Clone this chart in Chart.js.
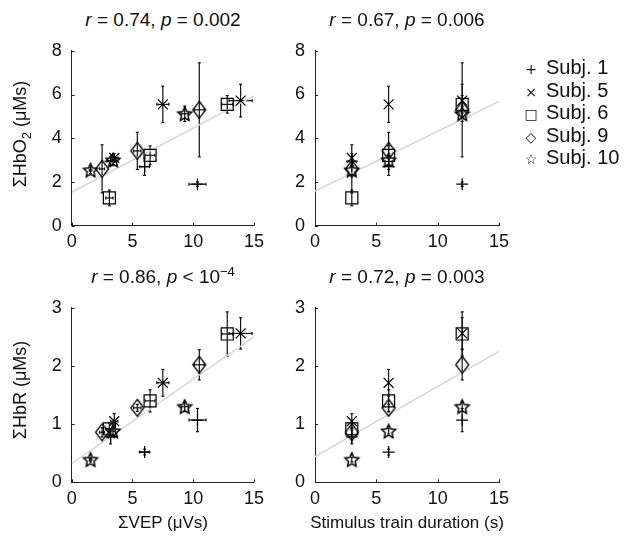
<!DOCTYPE html>
<html>
<head>
<meta charset="utf-8">
<script src="https://cdn.jsdelivr.net/npm/chart.js@4.4.1/dist/chart.umd.min.js"></script>
<style>
  body { margin: 0; background: #fff; width: 626px; height: 541px; position: relative; overflow: hidden;
         font-family: 'Liberation Sans', Arial, sans-serif; color: #111; }
  canvas { position: absolute; }
  .txt { position: absolute; white-space: nowrap; font-size: 18px; line-height: 20px; }
  .ttl { width: 260px; text-align: center; font-size: 19px; }
  .ylab { transform: translate(-50%, -50%) rotate(-90deg); }
  .xlab { transform: translateX(-50%); font-size: 17px; }
  .leg { position: absolute; left: 520px; font-size: 20px; line-height: 20px; white-space: nowrap; }
  .leg span.sym { display: inline-block; width: 22px; text-align: center; font-family: 'DejaVu Sans'; font-size: 14px; margin-right: 4px; }
  sub, sup { font-size: 13px; line-height: 0; }
</style>
</head>
<body>
<canvas id="c1" width="270" height="240" style="left:0;top:30px"></canvas>
<canvas id="c2" width="260" height="240" style="left:260px;top:30px"></canvas>
<canvas id="c3" width="270" height="240" style="left:0;top:287px"></canvas>
<canvas id="c4" width="260" height="240" style="left:260px;top:287px"></canvas>

<div class="txt ttl" style="left:33px;top:10px"><i>r</i> = 0.74, <i>p</i> = 0.002</div>
<div class="txt ttl" style="left:277px;top:10px"><i>r</i> = 0.67, <i>p</i> = 0.006</div>
<div class="txt ttl" style="left:33px;top:267px"><i>r</i> = 0.86, <i>p</i> &lt; 10<sup>−4</sup></div>
<div class="txt ttl" style="left:277px;top:267px"><i>r</i> = 0.72, <i>p</i> = 0.003</div>

<div class="txt ylab" style="left:20px;top:134px">ΣHbO<sub>2</sub> (μMs)</div>
<div class="txt ylab" style="left:20px;top:390px">ΣHbR (μMs)</div>
<div class="txt xlab" style="left:163px;top:513px">ΣVEP (μVs)</div>
<div class="txt xlab" style="left:407px;top:513px">Stimulus train duration (s)</div>

<div id="legend"></div>

<script>
// subjects and stimulus train durations
const subjects = ['Subj. 1', 'Subj. 5', 'Subj. 6', 'Subj. 9', 'Subj. 10'];
const legendSymbols = ['+', '×', '□', '◇', '☆'];
const durations = [3, 6, 12];

// ΣVEP (μVs) per subject, for 3/6/12 s trains
const vep    = [[3.2, 6.0, 10.35], [3.5, 7.5, 13.9], [3.1, 6.45, 12.8], [2.5, 5.4, 10.5], [1.55, 3.4, 9.3]];
const vepErr = [[0.3, 0.4, 0.7],   [0.3, 0.5, 0.95], [0.3, 0.4, 0.45], [0.2, 0.3, 0.4],  [0.1, 0.2, 0.3]];

// ΣHbO2 (μMs)
const hbo    = [[2.95, 2.7, 1.9], [3.1, 5.55, 5.72], [1.27, 3.22, 5.55], [2.6, 3.42, 5.3], [2.54, 3.0, 5.12]];
const hboErr = [[0.2, 0.4, 0.1],  [0.2, 0.83, 0.75], [0.36, 0.43, 0.4],  [1.1, 0.85, 2.15], [0.15, 0.25, 0.35]];

// ΣHbR (μMs)
const hbr    = [[0.78, 0.52, 1.07], [1.05, 1.71, 2.56], [0.92, 1.4, 2.55], [0.86, 1.28, 2.02], [0.39, 0.88, 1.3]];
const hbrErr = [[0.12, 0.05, 0.2],  [0.13, 0.23, 0.27], [0.1, 0.19, 0.38], [0.08, 0.06, 0.26], [0.04, 0.05, 0.08]];

// regression lines: y at x = 0 and x = 15
const fitX = [0, 15];
const fitHboVep = [1.53, 5.94];
const fitHboDur = [1.58, 5.69];
const fitHbrVep = [0.32, 2.5];
const fitHbrDur = [0.44, 2.25];

Chart.defaults.font.family = "'Liberation Sans', Arial, sans-serif";
Chart.defaults.font.size = 18;
Chart.defaults.color = '#111';

// custom marker images (tall diamond, pentagram)
function makeDiamond() {
  const c = document.createElement('canvas');
  c.width = 16; c.height = 20;
  const g = c.getContext('2d');
  g.strokeStyle = '#000'; g.lineWidth = 1.3;
  g.beginPath();
  g.moveTo(8, 1.5); g.lineTo(14.5, 10); g.lineTo(8, 18.5); g.lineTo(1.5, 10); g.closePath();
  g.stroke();
  return c;
}
function makeStar() {
  const c = document.createElement('canvas');
  c.width = 18; c.height = 18;
  const g = c.getContext('2d');
  g.strokeStyle = '#000'; g.lineWidth = 1.5;
  g.lineJoin = 'miter';
  g.beginPath();
  for (let k = 0; k < 10; k++) {
    const r = k % 2 === 0 ? 7.3 : 3.5;
    const a = -Math.PI / 2 + k * Math.PI / 5;
    const px = 9 + r * Math.cos(a), py = 9.6 + r * Math.sin(a);
    if (k === 0) g.moveTo(px, py); else g.lineTo(px, py);
  }
  g.closePath();
  g.stroke();
  return c;
}
const pointStyles = ['cross', 'crossRot', 'rect', makeDiamond(), makeStar()];
const pointRadii = [6, 7, 8.5, 8, 8];

// legend
const legend = document.getElementById('legend');
subjects.forEach((s, i) => {
  const d = document.createElement('div');
  d.className = 'leg';
  d.style.top = (57 + i * 22.5) + 'px';
  d.innerHTML = '<span class="sym">' + legendSymbols[i] + '</span>' + s;
  legend.appendChild(d);
});

// error bars drawn through the scales
const errorBars = {
  id: 'errorBars',
  beforeDatasetsDraw(chart) {
    const { ctx, scales: { x, y } } = chart;
    ctx.save();
    ctx.strokeStyle = '#111';
    ctx.lineWidth = 1.2;
    const seg = (x1, y1, x2, y2) => { ctx.beginPath(); ctx.moveTo(x1, y1); ctx.lineTo(x2, y2); ctx.stroke(); };
    chart.data.datasets.forEach(ds => {
      if (!ds.yErr) return;
      ds.data.forEach((p, i) => {
        const px = x.getPixelForValue(p.x), py = y.getPixelForValue(p.y);
        const ey = ds.yErr[i];
        if (ey) {
          const y1 = y.getPixelForValue(p.y - ey), y2 = y.getPixelForValue(p.y + ey);
          seg(px, y1, px, y2);
          seg(px - 1.5, y1, px + 1.5, y1);
          seg(px - 1.5, y2, px + 1.5, y2);
        }
        const ex = ds.xErr ? ds.xErr[i] : 0;
        if (ex) {
          const x1 = x.getPixelForValue(p.x - ex), x2 = x.getPixelForValue(p.x + ex);
          seg(x1, py, x2, py);
          seg(x1, py - 1.5, x1, py + 1.5);
          seg(x2, py - 1.5, x2, py + 1.5);
        }
      });
    });
    ctx.restore();
  }
};

// small inward tick marks
const inwardTicks = {
  id: 'inwardTicks',
  afterDraw(chart) {
    const { ctx, chartArea: a, scales: { x, y } } = chart;
    ctx.save();
    ctx.strokeStyle = '#222';
    ctx.lineWidth = 1;
    x.ticks.forEach(t => {
      const px = Math.round(x.getPixelForValue(t.value)) + 0.5;
      ctx.beginPath(); ctx.moveTo(px, a.bottom); ctx.lineTo(px, a.bottom - 3); ctx.stroke();
    });
    y.ticks.forEach(t => {
      const py = Math.round(y.getPixelForValue(t.value)) + 0.5;
      ctx.beginPath(); ctx.moveTo(a.left, py); ctx.lineTo(a.left + 3, py); ctx.stroke();
    });
    ctx.restore();
  }
};

function makePanel(id, left, top, w, h, area, xVals, xErrs, yVals, yErrs, fit, yMax, yStep) {
  const datasets = [{
    type: 'line',
    data: fitX.map((v, i) => ({ x: v, y: fit[i] })),
    borderColor: '#d6d6d6',
    borderWidth: 1.5,
    pointRadius: 0,
    order: 10
  }];
  subjects.forEach((s, i) => {
    datasets.push({
      label: s,
      data: durations.map((d, j) => ({ x: xVals[i][j], y: yVals[i][j] })),
      yErr: yErrs[i],
      xErr: xErrs ? xErrs[i] : null,
      pointStyle: pointStyles[i],
      pointRadius: pointRadii[i],
      borderColor: '#000',
      backgroundColor: 'rgba(0,0,0,0)',
      pointBorderWidth: 1.2,
      clip: false,
      order: 1
    });
  });
  new Chart(document.getElementById(id), {
    type: 'scatter',
    data: { datasets },
    options: {
      responsive: false,
      animation: false,
      devicePixelRatio: 1,
      layout: { padding: { left: 0, top: area.t - top, right: left + w - area.r, bottom: 0 } },
      plugins: { legend: { display: false }, tooltip: { enabled: false } },
      scales: {
        x: {
          type: 'linear', min: 0, max: 15,
          ticks: { stepSize: 5, padding: 6, maxRotation: 0 },
          grid: { display: false, drawTicks: false },
          border: { color: '#222', width: 1 },
          afterFit: sc => { sc.height = top + h - area.b; }
        },
        y: {
          type: 'linear', min: 0, max: yMax,
          ticks: { stepSize: yStep, padding: 10 },
          grid: { display: false, drawTicks: false },
          border: { color: '#222', width: 1 },
          afterFit: sc => { sc.width = area.l - left; }
        }
      }
    },
    plugins: [errorBars, inwardTicks]
  });
}

const durX = subjects.map(() => durations);
makePanel('c1', 0, 30, 270, 240, { l: 71.7, t: 42, r: 255, b: 225.7 }, vep, vepErr, hbo, hboErr, fitHboVep, 8, 2);
makePanel('c2', 260, 30, 260, 240, { l: 315, t: 42, r: 499, b: 225.7 }, durX, null, hbo, hboErr, fitHboDur, 8, 2);
makePanel('c3', 0, 287, 270, 240, { l: 71.7, t: 299, r: 255, b: 482.3 }, vep, vepErr, hbr, hbrErr, fitHbrVep, 3, 1);
makePanel('c4', 260, 287, 260, 240, { l: 315, t: 299, r: 499, b: 482.3 }, durX, null, hbr, hbrErr, fitHbrDur, 3, 1);
</script>
</body>
</html>
